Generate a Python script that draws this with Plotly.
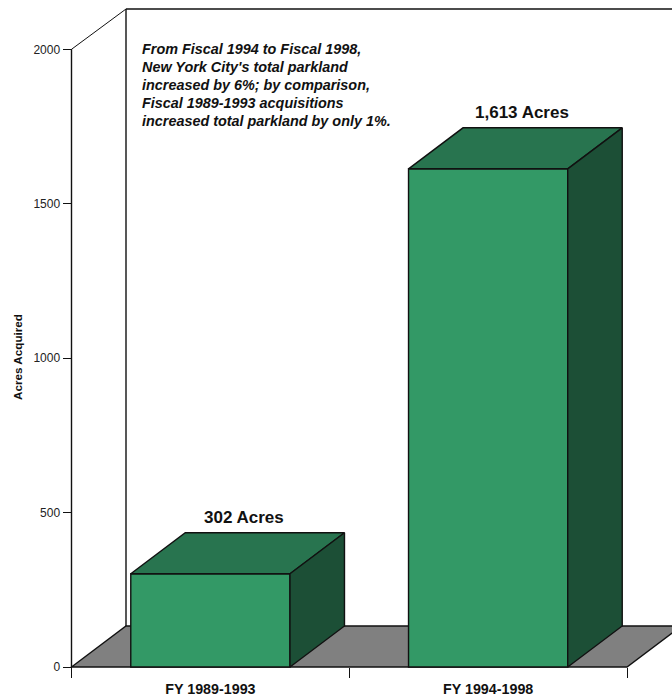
import plotly.graph_objects as go

categories = ["FY 1989-1993", "FY 1994-1998"]
acres = [302, 1613]
bar_labels = ["302 Acres", "1,613 Acres"]
y_ticks = [0, 500, 1000, 1500, 2000]
note_lines = [
    "From Fiscal 1994 to Fiscal 1998,",
    "New York City's total parkland",
    "increased by 6%; by comparison,",
    "Fiscal 1989-1993 acquisitions",
    "increased total parkland by only 1%.",
]

W, H = 672, 700
X_PX = 277.75      # pixels per category
Y_PX = 0.30885     # pixels per acre
X0_PX, Y0_PX = 71.5, 667.0   # pixel position of x=-0.5, y=0
x_range = [-0.5 - X0_PX / X_PX, -0.5 + (W - X0_PX) / X_PX]
y_range = [-(H - Y0_PX) / Y_PX, Y0_PX / Y_PX]

DX = 54.5 / X_PX   # depth offset, data units
DY = 41.0 / Y_PX
BAR_W = 159.2 / X_PX
TOP_Y = (Y0_PX - 9) / Y_PX  # top edge of the back wall

FRONT, TOP, SIDE, FLOOR = "#339966", "#28744F", "#1C4F36", "#808080"
INK = "#111111"
LW = 1.4
FONT = "Liberation Sans, Arial, sans-serif"

fig = go.Figure()
fig.add_trace(go.Bar(x=list(range(len(acres))), y=acres, width=BAR_W,
                     marker=dict(color=FRONT, line=dict(color=INK, width=LW)),
                     cliponaxis=False, hoverinfo="skip"))

for i, v in enumerate(acres):
    l, r = i - BAR_W / 2, i + BAR_W / 2
    fig.add_trace(go.Scatter(x=[l, r, r + DX, l + DX, l], y=[v, v, v + DY, v + DY, v],
                             mode="lines", fill="toself", fillcolor=TOP,
                             line=dict(color=INK, width=LW), hoverinfo="skip"))
    fig.add_trace(go.Scatter(x=[r, r + DX, r + DX, r, r], y=[0, DY, v + DY, v, 0],
                             mode="lines", fill="toself", fillcolor=SIDE,
                             line=dict(color=INK, width=LW), hoverinfo="skip"))

shapes = [
    # floor
    dict(type="path", layer="below", xref="x", yref="y", fillcolor=FLOOR,
         line=dict(color=INK, width=LW),
         path=f"M -0.5 0 L {-0.5 + DX} {DY} L {1.5 + DX} {DY} L 1.5 0 Z"),
    # back wall edges
    dict(type="line", layer="below", xref="x", yref="y", x0=-0.5 + DX, x1=-0.5 + DX, y0=DY, y1=TOP_Y,
         line=dict(color=INK, width=LW)),
    dict(type="line", layer="below", xref="x", yref="y", x0=-0.5 + DX, x1=x_range[1], y0=TOP_Y, y1=TOP_Y,
         line=dict(color=INK, width=LW)),
    dict(type="line", layer="below", xref="x", yref="y", x0=-0.5, x1=-0.5 + DX, y0=2000, y1=TOP_Y,
         line=dict(color=INK, width=1)),
    # left axis line
    dict(type="line", layer="below", xref="x", yref="y", x0=-0.5, x1=-0.5, y0=0, y1=2000,
         line=dict(color=INK, width=LW)),
]

annotations = []
for i, (v, t) in enumerate(zip(acres, bar_labels)):
    annotations.append(dict(x=i + DX / 2, y=v + DY, yshift=15, xshift=6.5, xref="x", yref="y", text=t,
                            showarrow=False, xanchor="center", yanchor="middle",
                            font=dict(family=FONT, size=17, color=INK, weight="bold")))
for n, line in enumerate(note_lines):
    annotations.append(dict(x=142 / W, y=1 - (49 + 18 * n) / H, xref="paper", yref="paper",
                            text=f"<b><i>{line}</i></b>", showarrow=False, xanchor="left",
                            yanchor="middle", xshift=-2,
                            font=dict(family=FONT, size=14.4, color=INK)))
annotations.append(dict(x=17 / W, y=1 - 357 / H, xref="paper", yref="paper", text="<b>Acres Acquired</b>",
                        textangle=-90, showarrow=False, xanchor="center", yanchor="middle",
                        font=dict(family=FONT, size=11.7, color=INK)))

fig.update_layout(
    width=W, height=H, margin=dict(l=0, r=0, t=0, b=0, autoexpand=False),
    plot_bgcolor="white", paper_bgcolor="white", showlegend=False,
    shapes=shapes, annotations=annotations,
    xaxis=dict(domain=[0, 1], range=x_range, anchor="free", position=(H - Y0_PX) / H,
               tickmode="array", tickvals=[0, 1], ticktext=categories,
               ticks="", ticklabelstandoff=12, showgrid=False, zeroline=False, showline=False,
               tickfont=dict(family=FONT, size=14.3, color=INK, weight="bold"),
               minor=dict(tickmode="array", tickvals=[-0.5, 0.5, 1.5], ticks="outside",
                          ticklen=10, tickwidth=1, tickcolor=INK, showgrid=False)),
    yaxis=dict(domain=[0, 1], range=y_range, anchor="free", position=X0_PX / W,
               tickmode="array", tickvals=y_ticks, ticks="outside", ticklen=9, tickwidth=1,
               tickcolor=INK, showgrid=False, zeroline=False, showline=False,
               tickfont=dict(family=FONT, size=12, color="#222222")),
)
fig.write_html("out.html", config=dict(displayModeBar=False),
               post_script="document.body.style.margin='0';")
